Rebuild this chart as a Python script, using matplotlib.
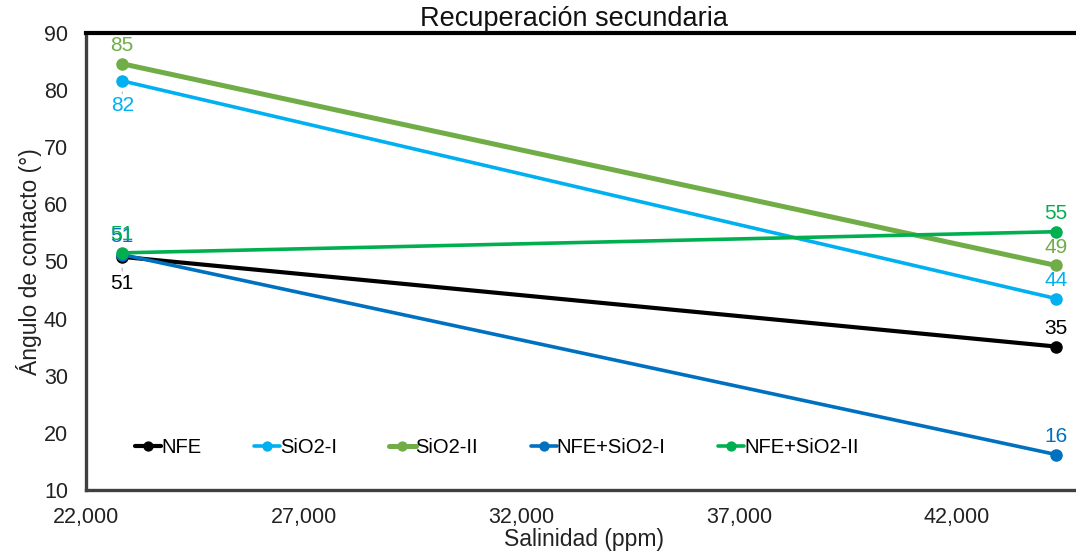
import matplotlib
matplotlib.use("Agg")
from matplotlib import pyplot as plt

plt.rcParams['font.family'] = ['Liberation Sans', 'DejaVu Sans']

# data
salinity = [22830, 44270]
series_names = ["NFE", "SiO2-I", "SiO2-II", "NFE+SiO2-I", "NFE+SiO2-II"]
nfe = [50.8, 35.1]
sio2_i = [81.6, 43.5]
sio2_ii = [84.6, 49.3]
nfe_sio2_i = [51.2, 16.2]
nfe_sio2_ii = [51.5, 55.2]
labels_nfe = ["51", "35"]
labels_sio2_i = ["82", "44"]
labels_sio2_ii = ["85", "49"]
labels_nfe_sio2_i = ["51", "16"]
labels_nfe_sio2_ii = ["51", "55"]
x_ticks = [22000, 27000, 32000, 37000, 42000]
y_ticks = [10, 20, 30, 40, 50, 60, 70, 80, 90]

colors = ["#000000", "#00B0F0", "#70AD47", "#0070C0", "#00B050"]
widths = [3.0, 2.6, 3.6, 2.6, 2.6]
values = [nfe, sio2_i, sio2_ii, nfe_sio2_i, nfe_sio2_ii]
texts = [labels_nfe, labels_sio2_i, labels_sio2_ii, labels_nfe_sio2_i, labels_nfe_sio2_ii]
# label offset (points) for left and right point of each series
offsets = [(-19, 13), (-18, 13), (13, 13), (13, 13), (13, 13)]

fig = plt.figure(figsize=(10.76, 5.58), dpi=100)
ax = fig.add_axes([0.080, 0.122, 0.920, 0.819])

for name, y, c, lw in zip(series_names, values, colors, widths):
    ax.plot(salinity, y, color=c, lw=lw, marker="o", markersize=8, label=name,
            solid_capstyle="round")

for y, txt, c, offs in zip(values, texts, colors, offsets):
    for xi, yi, t, o in zip(salinity, y, txt, offs):
        if o < 0:
            ax.annotate(t, (xi, yi), xytext=(0, o), textcoords="offset points",
                        ha="center", va="center", color=c, fontsize=15,
                        arrowprops=dict(arrowstyle="-", color="#b0b0b0", lw=0.8,
                                        shrinkA=0, shrinkB=8))
        else:
            ax.annotate(t, (xi, yi), xytext=(0, o), textcoords="offset points",
                        ha="center", va="center", color=c, fontsize=15)

ax.set_xlim(22000, 44730)
ax.set_ylim(10, 90)
ax.set_xticks(x_ticks)
ax.set_xticklabels([f"{v:,}" for v in x_ticks])
ax.set_yticks(y_ticks)
ax.tick_params(length=0, labelsize=15.5, colors="#222222")
ax.tick_params(axis="y", pad=13)
ax.tick_params(axis="x", pad=12)

ax.spines["top"].set_linewidth(3)
ax.spines["top"].set_color("black")
for s in ["left", "bottom"]:
    ax.spines[s].set_linewidth(2.4)
    ax.spines[s].set_color("#404040")
ax.spines["right"].set_visible(False)

ax.set_xlabel("Salinidad (ppm)", fontsize=16.5, color="#222222", va="center")
ax.set_ylabel("Ángulo de contacto (°)", fontsize=16.5, color="#222222", va="center")
ax.xaxis.set_label_coords(0.503, -0.108)
ax.yaxis.set_label_coords(-0.058, 0.5)
fig.text(0.533, 0.966, "Recuperación secundaria", ha="center", va="center",
         fontsize=19.5, color="#111111")

ax.legend(loc="center", bbox_to_anchor=(0.415, 0.092), ncol=5, frameon=False,
          fontsize=14.5, handlelength=1.3, handletextpad=0.0, columnspacing=2.6,
          markerscale=0.8)

fig.savefig("out.png", dpi=100)
